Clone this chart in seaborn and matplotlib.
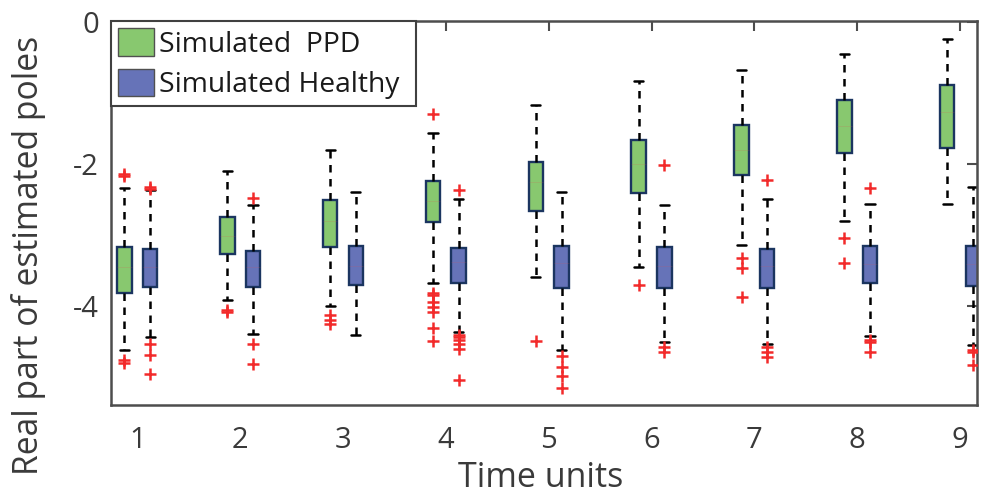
import numpy as np
import pandas as pd
import matplotlib
matplotlib.use("Agg")
import matplotlib.pyplot as plt
import seaborn as sns

# ---------------- data ----------------
times = [1, 2, 3, 4, 5, 6, 7, 8, 9]
groups = ["Simulated  PPD", "Simulated Healthy"]

ppd_wlo = [-4.62, -3.92, -4.00, -3.67, -3.59, -3.45, -3.14, -2.80, -2.56]
ppd_q1 = [-3.81, -3.27, -3.17, -2.82, -2.66, -2.41, -2.15, -1.84, -1.78]
ppd_med = [-3.45, -3.01, -2.80, -2.52, -2.25, -2.00, -1.80, -1.46, -1.27]
ppd_q3 = [-3.17, -2.74, -2.51, -2.24, -1.97, -1.66, -1.45, -1.10, -0.89]
ppd_whi = [-2.34, -2.10, -1.80, -1.57, -1.17, -0.83, -0.68, -0.45, -0.24]
ppd_out = [
    [-2.14, -2.17, -4.76, -4.80],
    [-4.05, -4.08],
    [-4.13, -4.19, -4.25],
    [-1.30, -3.81, -3.85, -3.94, -4.01, -4.08, -4.31, -4.49],
    [-4.49],
    [-3.70],
    [-3.32, -3.47, -3.87],
    [-3.04, -3.40],
    [],
]

hea_wlo = [-4.43, -4.39, -4.41, -4.37, -4.62, -4.51, -4.53, -4.42, -4.55]
hea_q1 = [-3.73, -3.73, -3.70, -3.67, -3.75, -3.75, -3.75, -3.68, -3.72]
hea_med = [-3.45, -3.45, -3.44, -3.38, -3.40, -3.43, -3.43, -3.41, -3.41]
hea_q3 = [-3.19, -3.22, -3.15, -3.18, -3.15, -3.17, -3.19, -3.15, -3.15]
hea_whi = [-2.37, -2.58, -2.39, -2.49, -2.39, -2.58, -2.50, -2.57, -2.32]
hea_out = [
    [-2.33, -2.35, -4.53, -4.68, -4.96],
    [-2.48, -4.53, -4.81],
    [],
    [-2.37, -4.40, -4.43, -4.48, -4.53, -4.60, -5.04],
    [-4.70, -4.85, -4.98, -5.15],
    [-2.01, -4.57, -4.64],
    [-2.23, -4.57, -4.64, -4.71],
    [-2.34, -4.48, -4.51, -4.64],
    [-4.61, -4.64, -4.83],
]

yticks = [-4, -2, 0]
ytick_labels = ["-4", "-2", "0"]

# ---------------- build tables ----------------
stats = {
    groups[0]: (ppd_wlo, ppd_q1, ppd_med, ppd_q3, ppd_whi, ppd_out),
    groups[1]: (hea_wlo, hea_q1, hea_med, hea_q3, hea_whi, hea_out),
}
rows, out_rows = [], []
for g, (wlo, q1, med, q3, whi, outs) in stats.items():
    for i, t in enumerate(times):
        for v in (wlo[i], q1[i], med[i], q3[i], whi[i]):
            rows.append({"time": t, "group": g, "value": v})
        for v in outs[i]:
            out_rows.append({"time": t, "group": g, "value": v})
box_df = pd.DataFrame(rows)
out_df = pd.DataFrame(out_rows)
offset = {groups[0]: -0.125, groups[1]: 0.125}
out_df["xpos"] = out_df["time"] + out_df["group"].map(offset)

# ---------------- style ----------------
sns.set_style("white")
plt.rcParams["font.family"] = ["Open Sans", "DejaVu Sans"]
plt.rcParams["axes.unicode_minus"] = False
text_col = "#3a3a3a"
axis_col = "#4d4d4d"

fig = plt.figure(figsize=(9.87, 4.95), dpi=100)
ax = fig.add_axes([111 / 987, 1 - 405 / 495, 866 / 987, 384 / 495])

palette = {groups[0]: "#88C86F", groups[1]: "#6673B8"}
sns.boxplot(
    data=box_df, x="time", y="value", hue="group", hue_order=groups,
    native_scale=True, dodge=True, width=0.5, gap=0.44,
    whis=(0, 100), showfliers=False, palette=palette,
    linecolor="#1B3560", linewidth=1.7, saturation=1,
    whiskerprops=dict(color="black", linestyle=(0, (3, 2.6)), linewidth=1.8),
    capprops=dict(color="black", linewidth=1.8),
    medianprops=dict(color="#E05050", linewidth=0.5, alpha=0.22),
    capwidths=0.09,
    ax=ax,
)

sns.scatterplot(
    data=out_df, x="xpos", y="value", marker="+", color="#F22A2A",
    s=72, linewidth=1.8, legend=False, zorder=4, ax=ax,
)

ax.set_xlim(0.744, 9.165)
ax.set_ylim(-5.39, 0.01)
ax.set_xticks(times)
ax.set_xticklabels([str(t) for t in times])
ax.set_yticks(yticks)
ax.set_yticklabels(ytick_labels)

for sp in ax.spines.values():
    sp.set_visible(True)
    sp.set_color(axis_col)
    sp.set_linewidth(1.8)

ax.tick_params(axis="both", direction="in", length=7, width=1.5,
               color=axis_col, labelcolor=text_col, labelsize=21,
               top=True, right=True)
ax.tick_params(axis="x", pad=15)
ax.tick_params(axis="y", pad=8.5)

ax.set_xlabel("Time units", fontsize=24.5, color=text_col)
ax.set_ylabel("Real part of estimated poles", fontsize=24.2, color=text_col)
ax.xaxis.set_label_coords(0.4965, -0.146)
ax.yaxis.set_label_coords(-0.075, 0.39)

sns.move_legend(
    ax, "upper left", bbox_to_anchor=(0, 1, 305 / 866, 0), mode="expand",
    borderaxespad=0, title=None, frameon=True, fancybox=False, fontsize=20.3,
    handlelength=1.27, handleheight=1.12, labelspacing=0.36,
    handletextpad=0.18, borderpad=0.26,
)
leg = ax.get_legend()
leg.get_frame().set_edgecolor("#404040")
leg.get_frame().set_linewidth(1.5)
leg.get_frame().set_alpha(1)
for txt in leg.get_texts():
    txt.set_color("#1a1a1a")
for h in leg.legend_handles:
    h.set_edgecolor("#505050")
    h.set_linewidth(1.0)

ax.grid(False)
fig.savefig("out.png", dpi=100)
